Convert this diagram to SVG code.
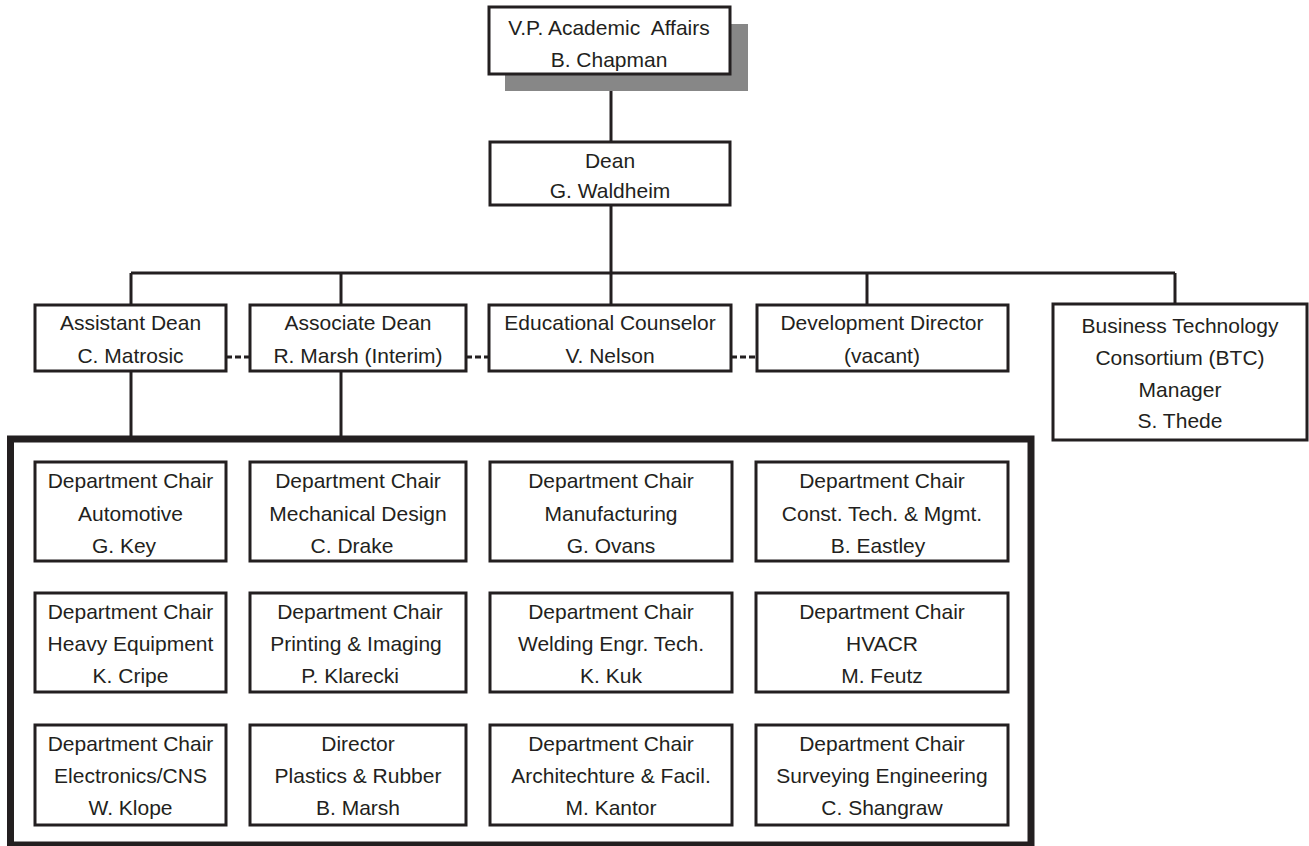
<svg xmlns="http://www.w3.org/2000/svg" width="1309" height="846" viewBox="0 0 1309 846">
<style>
.box{fill:#fff;stroke:#231f20;stroke-width:3}
.ln{stroke:#231f20;stroke-width:3;fill:none}
.dash{stroke:#231f20;stroke-width:3;fill:none;stroke-dasharray:6 3}
text{font-family:"Liberation Sans",Arial,sans-serif;font-size:21px;fill:#231f20;text-anchor:middle}
</style>
<rect width="1309" height="846" fill="#fff"/>
<g id="connectors">
<line class="ln" x1="611" y1="74" x2="611" y2="142"/>
<line class="ln" x1="611" y1="205" x2="611" y2="305"/>
<line class="ln" x1="131" y1="273" x2="1175" y2="273"/>
<line class="ln" x1="131" y1="273" x2="131" y2="305"/>
<line class="ln" x1="341" y1="273" x2="341" y2="305"/>
<line class="ln" x1="867" y1="273" x2="867" y2="305"/>
<line class="ln" x1="1175" y1="273" x2="1175" y2="304"/>
<line class="dash" x1="226" y1="357" x2="250" y2="357"/>
<line class="dash" x1="466" y1="357" x2="489" y2="357"/>
<line class="dash" x1="731" y1="357" x2="757" y2="357"/>
<line class="ln" x1="131" y1="371" x2="131" y2="439"/>
<line class="ln" x1="341" y1="371" x2="341" y2="439"/>
</g>
<g id="vp">
<rect x="505" y="24" width="243" height="67" fill="#878787"/>
<rect class="box" x="489" y="7" width="241" height="67"/>
<text x="609" y="35" style="white-space:pre" xml:space="preserve">V.P. Academic  Affairs</text>
<text x="609" y="67">B. Chapman</text>
</g>
<g id="dean">
<rect class="box" x="490" y="142" width="240" height="63"/>
<text x="610" y="168">Dean</text>
<text x="610" y="198">G. Waldheim</text>
</g>
<g id="asst">
<rect class="box" x="35" y="305" width="191" height="66"/>
<text x="130.5" y="330">Assistant Dean</text>
<text x="130.5" y="363">C. Matrosic</text>
</g>
<g id="assoc">
<rect class="box" x="250" y="305" width="216" height="66"/>
<text x="358" y="330">Associate Dean</text>
<text x="358" y="363">R. Marsh (Interim)</text>
</g>
<g id="educ">
<rect class="box" x="489" y="305" width="242" height="66"/>
<text x="610" y="330">Educational Counselor</text>
<text x="610" y="363">V. Nelson</text>
</g>
<g id="dev">
<rect class="box" x="757" y="305" width="251" height="66"/>
<text x="882" y="330">Development Director</text>
<text x="882" y="363">(vacant)</text>
</g>
<g id="btc">
<rect class="box" x="1053" y="304" width="254" height="136"/>
<text x="1180" y="333">Business Technology</text>
<text x="1180" y="365">Consortium (BTC)</text>
<text x="1180" y="397">Manager</text>
<text x="1180" y="428">S. Thede</text>
</g>
<g id="departments">
<rect x="10.5" y="439" width="1020.5" height="406" fill="none" stroke="#231f20" stroke-width="7"/>
</g>
<g id="d-automotive">
<rect class="box" x="35" y="462" width="191" height="99"/>
<text x="130.5" y="488">Department Chair</text>
<text x="130.5" y="521">Automotive</text>
<text x="124" y="553">G. Key</text>
</g>
<g id="d-mech">
<rect class="box" x="250" y="462" width="216" height="99"/>
<text x="358" y="488">Department Chair</text>
<text x="358" y="521">Mechanical Design</text>
<text x="352" y="553">C. Drake</text>
</g>
<g id="d-manuf">
<rect class="box" x="490" y="462" width="242" height="99"/>
<text x="611" y="488">Department Chair</text>
<text x="611" y="521">Manufacturing</text>
<text x="611" y="553">G. Ovans</text>
</g>
<g id="d-const">
<rect class="box" x="756" y="462" width="252" height="99"/>
<text x="882" y="488">Department Chair</text>
<text x="882" y="521">Const. Tech. &amp; Mgmt.</text>
<text x="878" y="553">B. Eastley</text>
</g>
<g id="d-heavy">
<rect class="box" x="35" y="593" width="191" height="99"/>
<text x="130.5" y="619">Department Chair</text>
<text x="130.5" y="651">Heavy Equipment</text>
<text x="130.5" y="683">K. Cripe</text>
</g>
<g id="d-print">
<rect class="box" x="250" y="593" width="216" height="99"/>
<text x="360" y="619">Department Chair</text>
<text x="356" y="651">Printing &amp; Imaging</text>
<text x="350" y="683">P. Klarecki</text>
</g>
<g id="d-weld">
<rect class="box" x="490" y="593" width="242" height="99"/>
<text x="611" y="619">Department Chair</text>
<text x="611" y="651">Welding Engr. Tech.</text>
<text x="611" y="683">K. Kuk</text>
</g>
<g id="d-hvacr">
<rect class="box" x="756" y="593" width="252" height="99"/>
<text x="882" y="619">Department Chair</text>
<text x="882" y="651">HVACR</text>
<text x="882" y="683">M. Feutz</text>
</g>
<g id="d-elec">
<rect class="box" x="35" y="725" width="191" height="100"/>
<text x="130.5" y="751">Department Chair</text>
<text x="130.5" y="783">Electronics/CNS</text>
<text x="130.5" y="815">W. Klope</text>
</g>
<g id="d-plastics">
<rect class="box" x="250" y="725" width="216" height="100"/>
<text x="358" y="751">Director</text>
<text x="358" y="783">Plastics &amp; Rubber</text>
<text x="358" y="815">B. Marsh</text>
</g>
<g id="d-arch">
<rect class="box" x="490" y="725" width="242" height="100"/>
<text x="611" y="751">Department Chair</text>
<text x="611" y="783">Architechture &amp; Facil.</text>
<text x="611" y="815">M. Kantor</text>
</g>
<g id="d-survey">
<rect class="box" x="756" y="725" width="252" height="100"/>
<text x="882" y="751">Department Chair</text>
<text x="882" y="783">Surveying Engineering</text>
<text x="882" y="815">C. Shangraw</text>
</g>
</svg>
